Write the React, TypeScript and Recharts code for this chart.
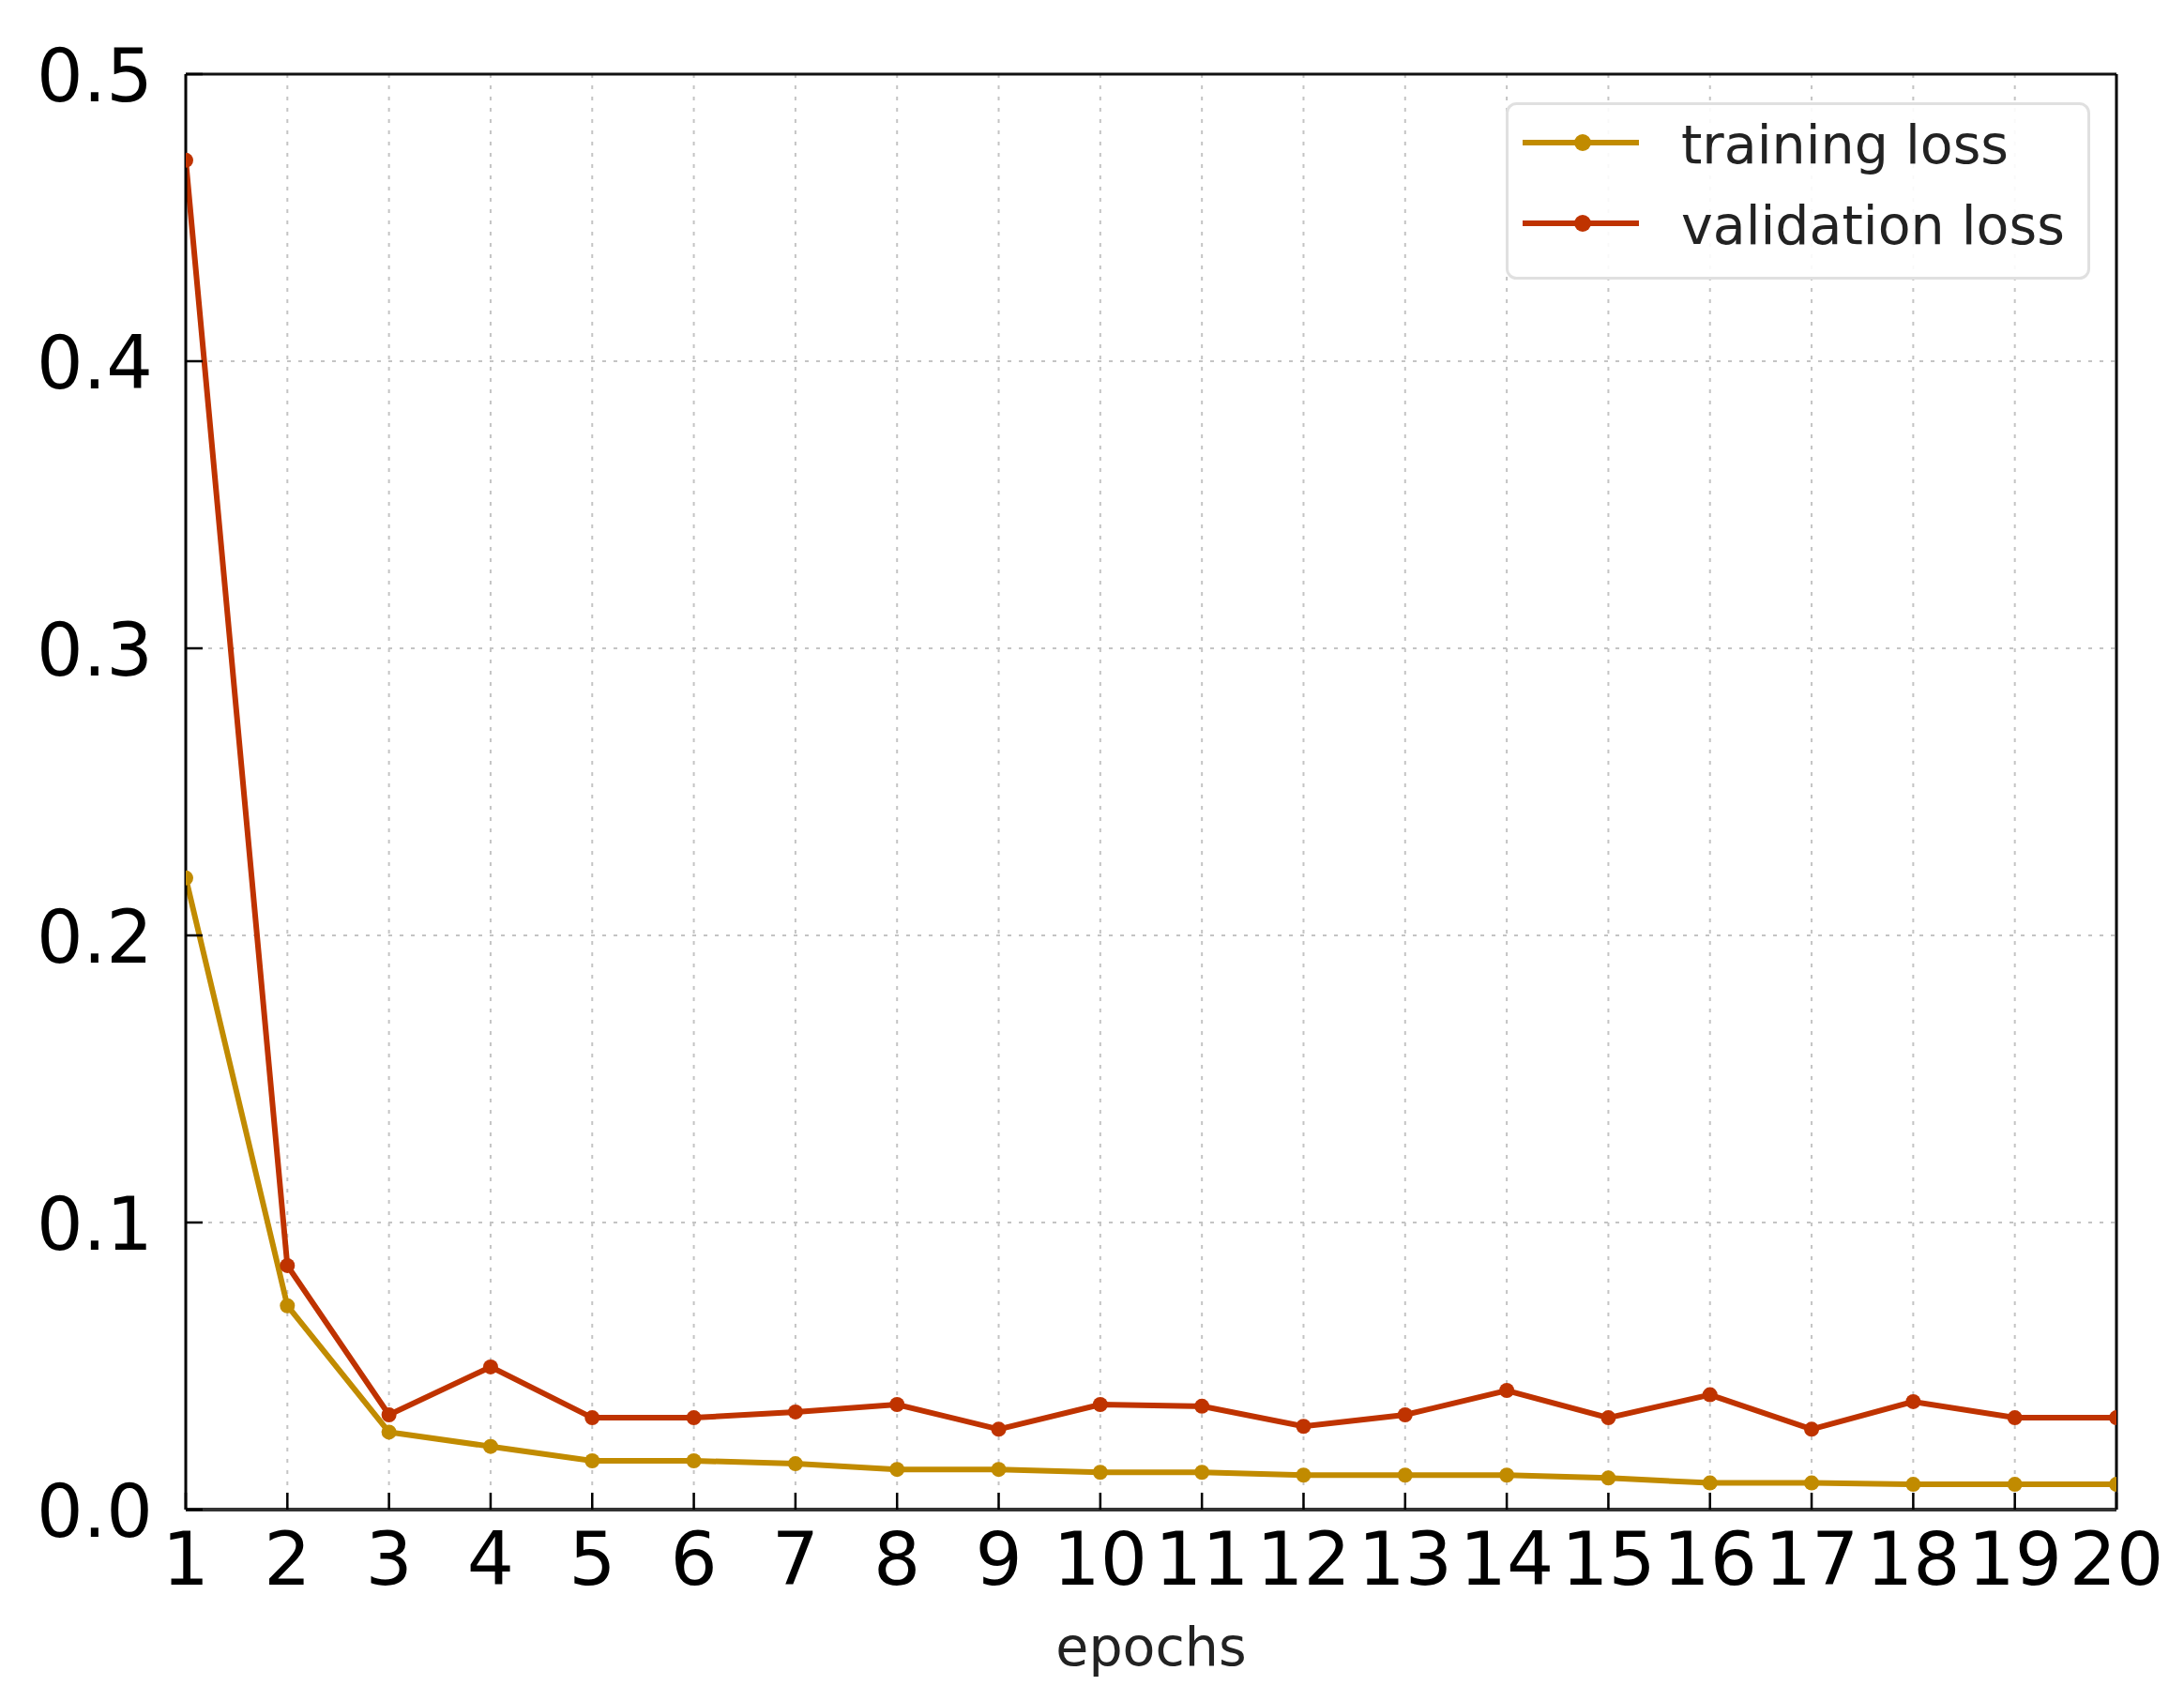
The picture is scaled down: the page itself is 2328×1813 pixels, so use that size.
import { LineChart, Line, XAxis, YAxis, CartesianGrid, Legend, ReferenceLine } from 'recharts'

const epochs = [1, 2, 3, 4, 5, 6, 7, 8, 9, 10, 11, 12, 13, 14, 15, 16, 17, 18, 19, 20]
const trainingLoss = [
  0.22, 0.071, 0.027, 0.022, 0.017, 0.017, 0.016, 0.014, 0.014, 0.013, 0.013, 0.012, 0.012, 0.012,
  0.011, 0.0093, 0.0093, 0.0088, 0.0088, 0.0088,
]
const validationLoss = [
  0.47, 0.085, 0.033, 0.0497, 0.032, 0.032, 0.034, 0.0366, 0.028, 0.0366, 0.036, 0.029, 0.033, 0.0415,
  0.032, 0.04, 0.028, 0.0376, 0.032, 0.032,
]
const yTicks = [0, 0.1, 0.2, 0.3, 0.4, 0.5]

const TRAIN = '#c18b00'
const VALID = '#bf3300'
const FONT = 'DejaVu Sans'

const data = epochs.map((e, i) => ({ epoch: e, training: trainingLoss[i], validation: validationLoss[i] }))

function XTick({ x, y, payload }: any) {
  return (
    <g>
      <line x1={x} y1={y} x2={x} y2={y - 18} stroke="#000" strokeWidth={2.5} />
      <text x={x} y={y + 80} textAnchor="middle" fontSize={79} fontFamily={FONT} fill="#000">
        {payload.value}
      </text>
    </g>
  )
}

function YTick({ x, y, payload }: any) {
  return (
    <g>
      <line x1={x} y1={y} x2={x + 18} y2={y} stroke="#000" strokeWidth={2.5} />
      <text x={x - 35} y={y + 29} textAnchor="end" fontSize={78} fontFamily={FONT} fill="#000">
        {Number(payload.value).toFixed(1)}
      </text>
    </g>
  )
}

function EpochsLabel({ viewBox }: any) {
  if (!viewBox) return null
  return (
    <text
      x={viewBox.x + viewBox.width / 2}
      y={viewBox.y + 166}
      textAnchor="middle"
      fontSize={57}
      fontFamily={FONT}
      fill="#222"
    >
      epochs
    </text>
  )
}

const legendItems = [
  { name: 'training loss', color: TRAIN, base: 65 },
  { name: 'validation loss', color: VALID, base: 151 },
]

function LegendBox() {
  return (
    <svg width={623} height={189} style={{ display: 'block' }}>
      <rect x={1.5} y={1.5} width={620} height={186} rx={10} fill="#fff" fillOpacity={0.9} stroke="#e0e0e0" strokeWidth={3} />
      {legendItems.map((it) => (
        <g key={it.name}>
          <line x1={18} x2={142} y1={it.base - 22} y2={it.base - 22} stroke={it.color} strokeWidth={6} />
          <circle cx={82} cy={it.base - 22} r={9} fill={it.color} />
          <text x={187} y={it.base} fontSize={57} fontFamily={FONT} fill="#222">
            {it.name}
          </text>
        </g>
      ))}
    </svg>
  )
}

export default function App() {
  return (
    <div style={{ position: 'absolute', left: 0, top: 0, width: 2328, height: 1813, background: '#fff' }}>
      <LineChart width={2328} height={1813} data={data} margin={{ top: 79, right: 72, left: 0, bottom: 104 }}>
        <CartesianGrid stroke="#c4c4c4" strokeWidth={2} strokeDasharray="4 8" />
        <XAxis
          dataKey="epoch"
          type="number"
          domain={[1, 20]}
          ticks={epochs}
          interval={0}
          allowDataOverflow
          height={100}
          tickSize={0}
          tickMargin={0}
          tick={<XTick />}
          axisLine={{ stroke: '#333', strokeWidth: 4 }}
          label={<EpochsLabel />}
        />
        <YAxis
          type="number"
          domain={[0, 0.5]}
          ticks={yTicks}
          interval={0}
          allowDataOverflow
          width={198}
          tickSize={0}
          tickMargin={0}
          tick={<YTick />}
          axisLine={{ stroke: '#000', strokeWidth: 3 }}
        />
        <ReferenceLine y={0.5} stroke="#111" strokeWidth={3} />
        <ReferenceLine x={20} stroke="#000" strokeWidth={3} />
        <Line
          type="linear"
          dataKey="training"
          name="training loss"
          stroke={TRAIN}
          strokeWidth={6}
          dot={{ r: 8, fill: TRAIN, stroke: TRAIN, strokeWidth: 0 }}
          isAnimationActive={false}
        />
        <Line
          type="linear"
          dataKey="validation"
          name="validation loss"
          stroke={VALID}
          strokeWidth={6}
          dot={{ r: 8, fill: VALID, stroke: VALID, strokeWidth: 0 }}
          isAnimationActive={false}
        />
        <Legend
          layout="horizontal"
          align="center"
          verticalAlign="middle"
          wrapperStyle={{ left: 1605, top: 109, width: 623, height: 189 }}
          content={<LegendBox />}
        />
      </LineChart>
    </div>
  )
}
